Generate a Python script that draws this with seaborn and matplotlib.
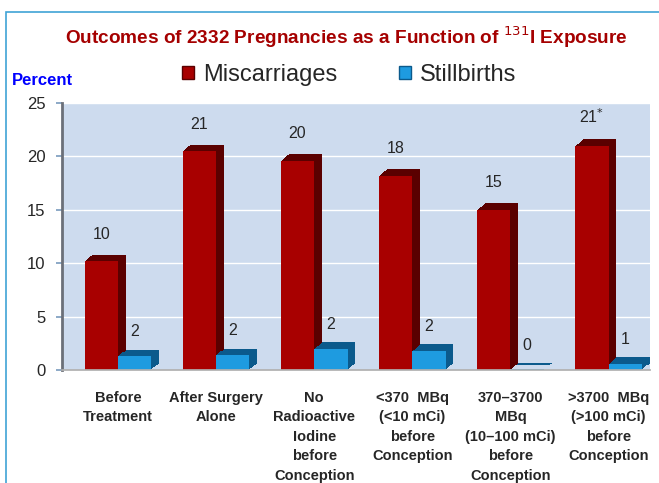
import matplotlib
matplotlib.use("Agg")
import matplotlib.pyplot as plt
import matplotlib.patheffects as pe
from matplotlib.patches import Rectangle
import seaborn as sns
import pandas as pd

categories = [
    "Before\nTreatment",
    "After Surgery\nAlone",
    "No\nRadioactive\nIodine\nbefore\nConception",
    "<370  MBq\n(<10 mCi)\nbefore\nConception",
    "370–3700\nMBq\n(10–100 mCi)\nbefore\nConception",
    ">3700  MBq\n(>100 mCi)\nbefore\nConception",
]
miscarriages = [10.2, 20.5, 19.6, 18.2, 15.0, 21.0]
stillbirths = [1.3, 1.4, 2.0, 1.8, 0.05, 0.6]
misc_labels = ["10", "21", "20", "18", "15", "21$^{*}$"]
still_labels = ["2", "2", "2", "2", "0", "1"]
series = ["Miscarriages", "Stillbirths"]

df = pd.DataFrame({
    "group": categories * 2,
    "outcome": [series[0]] * 6 + [series[1]] * 6,
    "percent": miscarriages + stillbirths,
})

sns.set_theme(style="white")
plt.rcParams["font.family"] = ["Liberation Sans", "DejaVu Sans"]

front = {"Miscarriages": "#a80000", "Stillbirths": "#1e9be0"}
side = {"Miscarriages": "#5a0000", "Stillbirths": "#0b5a8c"}

fig = plt.figure(figsize=(6.59, 4.83), dpi=100)
ax = fig.add_axes([0.094, 0.234, 0.892, 0.553])
ax.set_facecolor("#cddbee")

sns.barplot(data=df, x="group", y="percent", hue="outcome", order=categories,
            hue_order=series, palette=front, saturation=1, width=0.68, ax=ax)

# fake 3D depth: stack of offset shadows behind each bar
for cont, name in zip(ax.containers, series):
    effects = [pe.SimplePatchShadow(offset=(k * 0.8, k * 0.65),
                                    shadow_rgbFace=side[name], alpha=1)
               for k in range(1, 8)]
    for bar in cont:
        bar.set_path_effects(effects + [pe.Normal()])
        bar.set_edgecolor("none")

ax.bar_label(ax.containers[0], labels=misc_labels, padding=14, fontsize=11.5)
ax.bar_label(ax.containers[1], labels=still_labels, padding=12, fontsize=11.5)

handles, labels = ax.get_legend_handles_labels()
ax.legend_.remove()
for h, name in zip(handles, series):
    h.set_edgecolor(side[name])
fig.legend(handles, labels, loc="center", bbox_to_anchor=(0.53, 0.845),
           ncol=2, frameon=False, fontsize=17, handlelength=0.5,
           handleheight=0.5, handletextpad=0.4, columnspacing=2.6)

ax.set_ylim(0, 25)
ax.set_xlim(-0.57, 5.42)
ax.set_yticks([0, 5, 10, 15, 20, 25])
ax.yaxis.grid(True, color="white", lw=1)
ax.set_axisbelow(True)
ax.tick_params(axis="y", left=True, length=4, color="#7f9fc0", labelsize=12,
               pad=8)
ax.tick_params(axis="x", bottom=False, labelsize=10.5, pad=9)
for lab in ax.get_xticklabels():
    lab.set_fontweight("bold")
    lab.set_verticalalignment("top")
    lab.set_linespacing(1.5)
ax.set_xlabel("")
ax.set_ylabel("")
for s in ["top", "right"]:
    ax.spines[s].set_visible(False)
ax.spines["left"].set_color("#6b7079")
ax.spines["left"].set_linewidth(2)
ax.spines["bottom"].set_color("#b0b0b0")

fig.text(0.525, 0.923, "Outcomes of 2332 Pregnancies as a Function of $^{131}$I Exposure",
         ha="center", va="center", fontsize=13.7, fontweight="bold", color="#a50000")
fig.text(0.018, 0.833, "Percent", ha="left", va="center", fontsize=12,
         fontweight="bold", color="#0000ff")

fig.add_artist(Rectangle((6 / 659, -0.1), 1.1, 1 - 12 / 483 + 0.1,
                         transform=fig.transFigure, fill=False,
                         edgecolor="#3fa3d6", lw=1.2))

fig.savefig("out.png", dpi=100)
